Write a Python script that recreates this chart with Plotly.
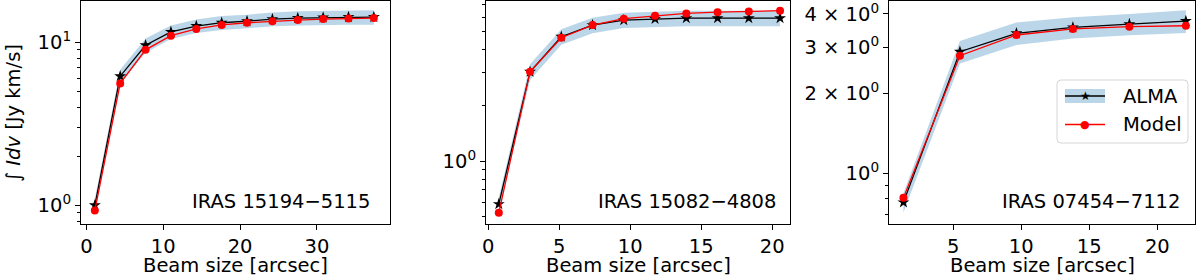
import plotly.graph_objects as go

# ---------------- data ----------------
beam1 = [1.1, 4.4, 7.7, 11.0, 14.3, 17.6, 20.9, 24.2, 27.5, 30.8, 34.1, 37.4]
alma1 = [1.0, 6.2, 9.6, 11.6, 12.6, 13.2, 13.5, 13.9, 14.1, 14.2, 14.3, 14.3]
alma1_err = [0.1, 0.6, 0.95, 1.1, 1.2, 1.3, 1.3, 1.35, 1.4, 1.4, 1.45, 1.45]
model1 = [0.93, 5.6, 9.0, 11.0, 12.1, 12.8, 13.2, 13.5, 13.7, 13.9, 14.0, 14.1]

beam2 = [0.75, 2.95, 5.15, 7.35, 9.55, 11.75, 13.95, 16.15, 18.35, 20.55]
alma2 = [0.586, 3.04, 4.70, 5.43, 5.78, 5.87, 5.92, 5.92, 5.92, 5.92]
alma2_err = [0.05, 0.3, 0.45, 0.52, 0.55, 0.56, 0.57, 0.57, 0.57, 0.57]
model2 = [0.526, 3.04, 4.64, 5.43, 5.88, 6.10, 6.28, 6.38, 6.44, 6.50]

beam3 = [1.35, 5.5, 9.65, 13.8, 17.95, 22.1]
alma3 = [0.776, 2.88, 3.38, 3.56, 3.66, 3.76]
alma3_err = [0.065, 0.28, 0.33, 0.33, 0.34, 0.37]
model3 = [0.807, 2.78, 3.33, 3.51, 3.58, 3.61]

names = ["IRAS 15194\u22125115", "IRAS 15082\u22124808", "IRAS 07454\u22127112"]

x_ticks = [[0, 10, 20, 30], [0, 5, 10, 15, 20], [5, 10, 15, 20]]
y_ticks = [[1, 10], [1], [1, 2, 3, 4]]
y_ticktext = [["10<sup>0</sup>", "10<sup>1</sup>"], ["10<sup>0</sup>"],
              ["10<sup>0</sup>", "2 \u00d7 10<sup>0</sup>", "3 \u00d7 10<sup>0</sup>", "4 \u00d7 10<sup>0</sup>"]]
y_minor = [[0.8, 0.9, 2, 3, 4, 5, 6, 7, 8, 9],
           [0.5, 0.6, 0.7, 0.8, 0.9, 2, 3, 4, 5, 6, 7],
           [0.7, 0.8, 0.9]]

# ---------------- layout geometry ----------------
W, H = 1200, 277
FONT = "DejaVu Sans"
FS = 19.5
x_dom_px = [(81, 390), (486, 790), (889, 1195)]
y_top_px, y_bot_px = 1, 223.5
x_ranges = [[-0.7, 39.5], [-0.15, 21.25], [0.29, 22.77]]
y_ranges = [[-0.112, 1.254], [-0.337, 0.865], [-0.19, 0.651]]

band_color = "rgba(31,119,180,0.3)"

fig = go.Figure()

panels = [(beam1, alma1, alma1_err, model1),
          (beam2, alma2, alma2_err, model2),
          (beam3, alma3, alma3_err, model3)]

for i, (bx, al, er, mo) in enumerate(panels):
    xa = "x" if i == 0 else f"x{i+1}"
    ya = "y" if i == 0 else f"y{i+1}"
    upper = [a + e for a, e in zip(al, er)]
    lower = [a - e for a, e in zip(al, er)]
    fig.add_trace(go.Scatter(x=bx, y=upper, mode="lines", line=dict(width=0),
                             hoverinfo="skip", showlegend=False, xaxis=xa, yaxis=ya))
    fig.add_trace(go.Scatter(x=bx, y=lower, mode="lines", line=dict(width=0),
                             fill="tonexty", fillcolor=band_color,
                             hoverinfo="skip", showlegend=False, xaxis=xa, yaxis=ya))
    fig.add_trace(go.Scatter(x=bx, y=al, mode="lines+markers",
                             line=dict(color="black", width=1.3),
                             marker=dict(symbol="star", size=9, color="black"),
                             showlegend=False, xaxis=xa, yaxis=ya))
    fig.add_trace(go.Scatter(x=bx, y=mo, mode="lines+markers",
                             line=dict(color="red", width=1.3),
                             marker=dict(symbol="circle", size=8, color="red"),
                             showlegend=False, xaxis=xa, yaxis=ya))

axis_common = dict(showline=True, linecolor="black", linewidth=1, mirror=True,
                   showgrid=False, zeroline=False, ticks="outside", ticklen=5,
                   tickwidth=1, tickcolor="black",
                   tickfont=dict(family=FONT, size=FS, color="black"),
                   ticklabeloverflow="allow", automargin=False)

layout = dict(width=W, height=H, margin=dict(l=0, r=0, t=0, b=0),
              paper_bgcolor="white", plot_bgcolor="white", showlegend=False,
              font=dict(family=FONT, size=FS, color="black"))

ydom = [(H - y_bot_px) / H, (H - y_top_px) / H]
for i in range(3):
    xk = "xaxis" if i == 0 else f"xaxis{i+1}"
    yk = "yaxis" if i == 0 else f"yaxis{i+1}"
    ya = "y" if i == 0 else f"y{i+1}"
    xa = "x" if i == 0 else f"x{i+1}"
    x0, x1 = x_dom_px[i]
    layout[xk] = dict(axis_common, domain=[x0 / W, x1 / W], range=x_ranges[i],
                      tickmode="array", tickvals=x_ticks[i], anchor=ya)
    layout[yk] = dict(axis_common, type="log", domain=ydom, range=y_ranges[i],
                      tickmode="array", tickvals=y_ticks[i], ticktext=y_ticktext[i],
                      anchor=xa,
                      minor=dict(tickmode="array", tickvals=y_minor[i], ticks="outside",
                                 ticklen=3, tickwidth=1, tickcolor="black", showgrid=False))

fig.update_layout(**layout)

annotations = []
shapes = []

def px_x(p):
    return p / W

def px_y(p):
    return (H - p) / H

# x-axis titles
for i in range(3):
    x0, x1 = x_dom_px[i]
    annotations.append(dict(text="Beam size [arcsec]", x=px_x((x0 + x1) / 2), y=px_y(265),
                            xref="paper", yref="paper", showarrow=False,
                            xanchor="center", yanchor="middle",
                            font=dict(family=FONT, size=FS, color="black")))
# y-axis title
annotations.append(dict(text="\u222b <i>Idv</i> [Jy km/s]", x=px_x(13), y=px_y(113),
                        xref="paper", yref="paper", showarrow=False, textangle=-90,
                        xanchor="center", yanchor="middle",
                        font=dict(family=FONT, size=FS, color="black")))
# panel labels
label_right = [372, 778, 1182]
for i in range(3):
    annotations.append(dict(text=names[i], x=px_x(label_right[i]), y=px_y(201),
                            xref="paper", yref="paper", showarrow=False,
                            xanchor="right", yanchor="middle",
                            font=dict(family=FONT, size=FS, color="black")))

# legend (drawn by hand to mimic the band+line handle)
bx0, bx1, by0, by1 = 1057, 1188, 80, 143
r = 4
path = (f"M {px_x(bx0 + r)},{px_y(by0)} L {px_x(bx1 - r)},{px_y(by0)} "
        f"Q {px_x(bx1)},{px_y(by0)} {px_x(bx1)},{px_y(by0 + r)} "
        f"L {px_x(bx1)},{px_y(by1 - r)} Q {px_x(bx1)},{px_y(by1)} {px_x(bx1 - r)},{px_y(by1)} "
        f"L {px_x(bx0 + r)},{px_y(by1)} Q {px_x(bx0)},{px_y(by1)} {px_x(bx0)},{px_y(by1 - r)} "
        f"L {px_x(bx0)},{px_y(by0 + r)} Q {px_x(bx0)},{px_y(by0)} {px_x(bx0 + r)},{px_y(by0)} Z")
shapes.append(dict(type="path", path=path, xref="paper", yref="paper",
                   fillcolor="rgba(255,255,255,0.85)", line=dict(color="#d5d5d5", width=1),
                   layer="above"))
shapes.append(dict(type="rect", xref="paper", yref="paper",
                   x0=px_x(1065), x1=px_x(1105), y0=px_y(103), y1=px_y(89),
                   fillcolor=band_color, line=dict(width=0), layer="above"))
shapes.append(dict(type="line", xref="paper", yref="paper",
                   x0=px_x(1065), x1=px_x(1105), y0=px_y(96), y1=px_y(96),
                   line=dict(color="black", width=1.3), layer="above"))
shapes.append(dict(type="line", xref="paper", yref="paper",
                   x0=px_x(1065), x1=px_x(1105), y0=px_y(124.5), y1=px_y(124.5),
                   line=dict(color="red", width=1.3), layer="above"))
annotations.append(dict(text="\u2605", x=px_x(1085), y=px_y(96), xref="paper", yref="paper",
                        showarrow=False, xanchor="center", yanchor="middle",
                        font=dict(family=FONT, size=12, color="black")))
annotations.append(dict(text="\u25cf", x=px_x(1085), y=px_y(124.5), xref="paper", yref="paper",
                        showarrow=False, xanchor="center", yanchor="middle",
                        font=dict(family=FONT, size=11, color="red")))
annotations.append(dict(text="ALMA", x=px_x(1121), y=px_y(96), xref="paper", yref="paper",
                        showarrow=False, xanchor="left", yanchor="middle",
                        font=dict(family=FONT, size=FS, color="black")))
annotations.append(dict(text="Model", x=px_x(1121), y=px_y(124.5), xref="paper", yref="paper",
                        showarrow=False, xanchor="left", yanchor="middle",
                        font=dict(family=FONT, size=FS, color="black")))

fig.update_layout(annotations=annotations, shapes=shapes)

fig.write_html("out.html", config={"displayModeBar": False},
               post_script="document.body.style.margin='0';document.body.style.padding='0';document.body.style.overflow='hidden';")
